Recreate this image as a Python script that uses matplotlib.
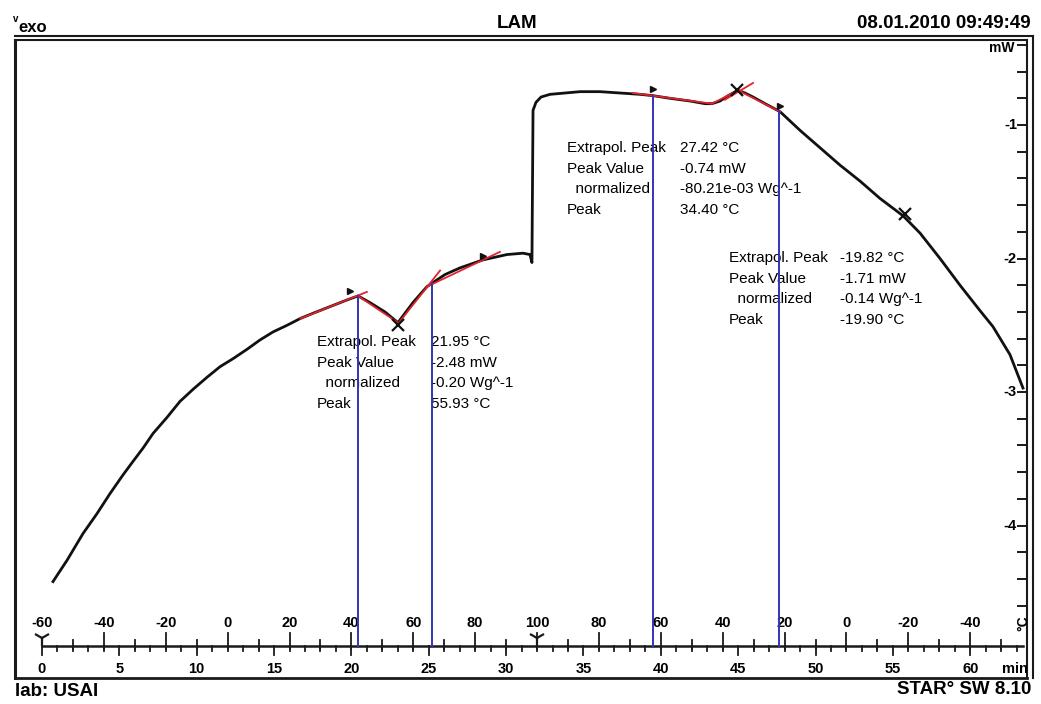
import numpy as np
import matplotlib.pyplot as plt
from matplotlib import transforms

plt.rcParams['font.family'] = ['Liberation Sans', 'DejaVu Sans']

W, H = 1041, 704

# DSC heat flow curve: time in min, heat flow in mW
time_min = [0.71, 1.62, 2.65, 3.56, 4.40, 5.24, 5.88, 6.53, 7.18, 8.08, 8.92, 9.76,
            10.66, 11.51, 12.35, 13.25, 14.09, 14.93, 15.84, 16.68, 17.52, 18.62, 19.72,
            20.43, 21.20, 22.17, 23.01, 23.46, 23.98, 24.43, 24.89, 25.40, 26.05, 27.02,
            28.51, 30.06, 31.09, 31.54, 31.67, 31.74, 31.93, 32.26, 32.84, 33.81, 34.78,
            36.07, 37.36, 38.65, 39.50, 40.60, 41.89, 42.86, 43.31, 43.83, 44.35, 44.99,
            45.44, 45.96, 46.74, 47.71, 49.00, 50.29, 51.58, 52.88, 54.17, 55.66, 56.76,
            58.05, 59.34, 60.63, 61.47, 62.57, 63.41]
heat_flow = [-4.42, -4.26, -4.06, -3.91, -3.76, -3.62, -3.52, -3.42, -3.31, -3.19, -3.07, -2.98,
             -2.89, -2.81, -2.75, -2.68, -2.61, -2.55, -2.50, -2.45, -2.41, -2.36, -2.31,
             -2.28, -2.33, -2.40, -2.48, -2.41, -2.33, -2.27, -2.21, -2.17, -2.12, -2.07,
             -2.01, -1.97, -1.96, -1.97, -2.03, -0.89, -0.83, -0.79, -0.77, -0.76, -0.75,
             -0.75, -0.76, -0.77, -0.78, -0.80, -0.82, -0.84, -0.84, -0.82, -0.78, -0.74,
             -0.76, -0.79, -0.84, -0.90, -1.04, -1.17, -1.30, -1.42, -1.55, -1.68, -1.81,
             -2.00, -2.20, -2.39, -2.51, -2.72, -2.97]

# integration limits (blue) in min
limit_times = [20.43, 25.21, 39.50, 47.64]

# baselines / tangents (red)
tangent_t = [[16.7, 21.0], [20.43, 23.01], [23.14, 25.73], [24.89, 29.6],
             [38.2, 43.3], [43.3, 45.0], [44.15, 45.96], [45.0, 47.7]]
tangent_mw = [[-2.45, -2.25], [-2.28, -2.48], [-2.47, -2.09], [-2.21, -1.95],
              [-0.76, -0.84], [-0.84, -0.74], [-0.81, -0.685], [-0.74, -0.90]]

peak_t = [23.0, 44.9, 55.8]
peak_mw = [-2.50, -0.74, -1.67]
flag_t = [19.9, 28.5, 39.5, 47.7]
flag_mw = [-2.24, -1.98, -0.73, -0.86]

# temperature program on the ruler: -60 -> 100 °C, then back down, 5 K/min
temp_label_t = [0, 4, 8, 12, 16, 20, 24, 28, 32, 36, 40, 44, 48, 52, 56, 60]
temp_labels = ['-60', '-40', '-20', '0', '20', '40', '60', '80', '100',
               '80', '60', '40', '20', '0', '-20', '-40']
time_ticks = [0, 5, 10, 15, 20, 25, 30, 35, 40, 45, 50, 55, 60]
segment_t = [0, 32]

mw_major = [-1, -2, -3, -4]
mw_minor = list(np.arange(-4.6, -0.3, 0.2))

# result boxes
block_labels = ['Extrapol. Peak', 'Peak Value', '  normalized', 'Peak']
block_values = [['21.95 °C', '-2.48 mW', '-0.20 Wg^-1', '55.93 °C'],
                ['27.42 °C', '-0.74 mW', '-80.21e-03 Wg^-1', '34.40 °C'],
                ['-19.82 °C', '-1.71 mW', '-0.14 Wg^-1', '-19.90 °C']]
block_pos = [(17.78, 25.15, -2.625), (33.94, 41.24, -1.172), (44.41, 51.58, -1.996)]

fig = plt.figure(figsize=(W / 100, H / 100), dpi=100)
ax = fig.add_axes([15 / W, 1 - 678 / H, (1027 - 15) / W, (678 - 40) / H])
ax.set_xlim(-1.745, 63.67)
ax.set_ylim(-5.142, -0.363)

for s in ax.spines.values():
    s.set_color('#1a1a1a')
ax.spines['left'].set_linewidth(2.2)
ax.spines['bottom'].set_linewidth(2.0)
ax.spines['top'].set_linewidth(1.5)
ax.spines['right'].set_linewidth(1.5)
# outer double lines at top and right
ax.plot([0, 1.0055], [1.006, 1.006], transform=ax.transAxes, color='#1a1a1a', lw=1.5, clip_on=False)
ax.plot([1.0055, 1.0055], [0, 1.006], transform=ax.transAxes, color='#1a1a1a', lw=1.5, clip_on=False)

ax.set_xticks([])
ax.yaxis.tick_right()
ax.set_yticks(mw_major)
ax.set_yticks(mw_minor, minor=True)
ax.tick_params(axis='y', which='both', direction='in', length=7, width=1.4,
               labelright=False, color='#1a1a1a')

lab = transforms.blended_transform_factory(ax.transAxes, ax.transData)
for v in mw_major:
    ax.text(0.99, v, str(v), transform=lab, ha='right', va='center',
            fontsize=10.5, fontweight='bold')
ax.text(0.988, -0.42, 'mW', transform=lab, ha='right', va='center', fontsize=10, fontweight='bold')

# curve
ax.plot(time_min, heat_flow, color='#111111', lw=2.0, zorder=3, solid_joinstyle='round')
for tt, mm in zip(tangent_t, tangent_mw):
    ax.plot(tt, mm, color='#e3222a', lw=1.3, zorder=4)
ax.plot(peak_t, peak_mw, 'x', color='#111111', ms=8, mew=1.6, zorder=5)
ax.plot(flag_t, flag_mw, '>', color='#111111', ms=4, zorder=5)

# blue limit lines
for t in limit_times:
    top = np.interp(t, time_min, heat_flow)
    ax.plot([t, t], [-4.91, top], color='#3434b4', lw=1.4, zorder=6)

# result text
for (xl, xv, y0), vals in zip(block_pos, block_values):
    for i, (l, v) in enumerate(zip(block_labels, vals)):
        ax.text(xl, y0 - i * 0.154, l, fontsize=11, va='center', color='#000000', zorder=2)
        ax.text(xv, y0 - i * 0.154, v, fontsize=11, va='center', color='#000000', zorder=2)

# ruler at the bottom
rt = transforms.blended_transform_factory(ax.transData, ax.transAxes)
ry = 0.0502
ax.plot([0, 63.4], [ry, ry], transform=rt, color='#1a1a1a', lw=1.8)
for t in np.arange(0, 63.5, 1):
    d = 0.014 if t % 5 == 0 else 0.008
    ax.plot([t, t], [ry, ry - d], transform=rt, color='#1a1a1a', lw=1.3)
for t in np.arange(2, 63, 2):
    up = 0.02 if t % 4 == 0 else 0.01
    ax.plot([t, t], [ry + up, ry - 0.005], transform=rt, color='#1a1a1a', lw=1.3)
ax.plot(segment_t, [ry + 0.012] * 2, '1', transform=rt, color='#1a1a1a', ms=12, mew=1.6)
for t, s in zip(temp_label_t, temp_labels):
    ax.text(t, 0.0862, s, transform=rt, ha='center', va='center', fontsize=10.5, fontweight='bold')
ax.text(63.45, 0.0862, '°C', transform=rt, ha='center', va='center', fontsize=10,
        fontweight='bold', rotation=90)
for t in time_ticks:
    ax.text(t, 0.003, str(t), transform=rt, ha='center', va='bottom', fontsize=10.5, fontweight='bold')
ax.text(62.9, 0.003, 'min', transform=rt, ha='center', va='bottom', fontsize=10.5, fontweight='bold')

# header and footer
fig.text(13 / W, 1 - 19 / H, 'v', fontsize=7, fontweight='bold', va='center')
fig.text(18 / W, 1 - 27 / H, 'exo', fontsize=12, fontweight='bold', va='center')
fig.text(517 / W, 1 - 24 / H, 'LAM', fontsize=13.5, fontweight='bold', ha='center', va='center')
fig.text(1031 / W, 1 - 23 / H, '08.01.2010 09:49:49', fontsize=13.5, fontweight='bold',
         ha='right', va='center')
fig.text(15 / W, 1 - 691 / H, 'lab: USAI', fontsize=13.5, fontweight='bold', va='center')
fig.text(1031 / W, 1 - 690 / H, 'STAR° SW 8.10', fontsize=13.5, fontweight='bold',
         ha='right', va='center')

fig.savefig('out.png', dpi=100)
